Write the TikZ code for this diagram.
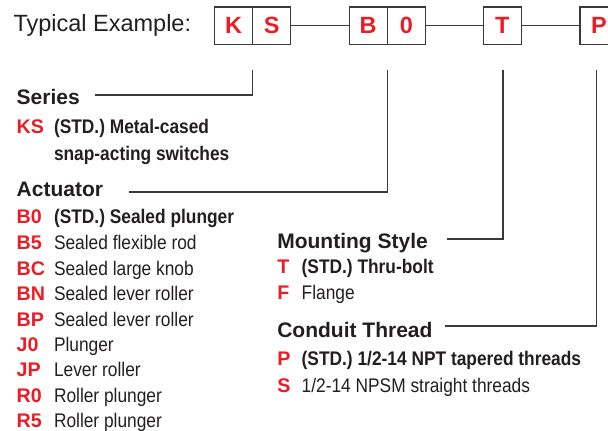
\documentclass[tikz,border=0pt]{standalone}
\usepackage{fontspec}
\setmainfont{Liberation Sans}
\newfontfamily\narrowfont[FakeStretch=0.88]{Liberation Sans}
\definecolor{txt}{HTML}{231F20}
\definecolor{codered}{HTML}{ED1C24}
\definecolor{linec}{HTML}{3A3A3A}
\begin{document}
\begin{tikzpicture}[x=1pt,y=-1pt,
  every node/.style={inner sep=0pt,outer sep=0pt,text=txt},
  cell/.style={draw=linec,line width=1.3pt,minimum width=38pt,minimum height=37.7pt,
    text=codered,font=\fontsize{23.5}{27}\selectfont\bfseries},
  conn/.style={draw=linec,line width=1.1pt},
  title/.style={anchor=base west,font=\fontsize{23.5}{28}\selectfont},
  header/.style={anchor=base west,font=\fontsize{21}{25}\selectfont\bfseries},
  code/.style={anchor=base west,text=codered,font=\fontsize{19.7}{24}\selectfont\bfseries},
  desc/.style={anchor=base west,font=\fontsize{19.7}{24}\narrowfont},
  descb/.style={anchor=base west,font=\fontsize{19.7}{24}\narrowfont\bfseries}]
\clip (0,0) rectangle (608,431);
% title
\node[title] (ttl) at (13.5,31.7) {Typical Example:};
% boxes
\node[cell] (K) at (233.7,25.85) {K};
\node[cell] (S) at (271.7,25.85) {S};
\node[cell] (B) at (368.15,25.85) {B};
\node[cell] (Z) at (406.3,25.85) {0};
\node[cell] (T) at (502.3,25.85) {T};
\node[cell] (P) at (599,25.85) {P};
\draw[conn] (S.east) -- (B.west);
\draw[conn] (Z.east) -- (T.west);
\draw[conn] (T.east) -- (P.west);
% connector coordinates
\coordinate (s1) at (252.7,70);
\coordinate (e1) at (95,95);
\coordinate (s2) at (387.3,70);
\coordinate (e2) at (129.3,192);
\coordinate (s3) at (503,70);
\coordinate (e3) at (447,239);
\coordinate (s4) at (596.5,70);
\coordinate (e4) at (445,326);
\draw[conn] (s1) |- (e1);
\draw[conn] (s2) |- (e2);
\draw[conn] (s3) |- (e3);
\draw[conn] (s4) |- (e4);
% Series
\node[header] (hser) at (16.7,104) {Series};
\node[code] (cKS) at (16.7,133.3) {KS};
\node[descb] (dKS) at (54,133.3) {(STD.) Metal-cased};
\node[descb] (dKS2) at (54,160) {snap-acting switches};
% Actuator
\node[header] (hact) at (16.7,196.7) {Actuator};
\node[code] (cB0) at (16.7,223.4) {B0};
\node[descb] (dB0) at (54,223.4) {(STD.) Sealed plunger};
\node[code] (cB5) at (16.7,249) {B5};
\node[desc] (dB5) at (54,249) {Sealed flexible rod};
\node[code] (cBC) at (16.7,275) {BC};
\node[desc] (dBC) at (54,275) {Sealed large knob};
\node[code] (cBN) at (16.7,300.7) {BN};
\node[desc] (dBN) at (54,300.7) {Sealed lever roller};
\node[code] (cBP) at (16.7,326) {BP};
\node[desc] (dBP) at (54,326) {Sealed lever roller};
\node[code] (cJ0) at (16.7,351.7) {J0};
\node[desc] (dJ0) at (54,351.7) {Plunger};
\node[code] (cJP) at (16.7,376.7) {JP};
\node[desc] (dJP) at (54,376.7) {Lever roller};
\node[code] (cR0) at (16.7,402.7) {R0};
\node[desc] (dR0) at (54,402.7) {Roller plunger};
\node[code] (cR5) at (16.7,427.7) {R5};
\node[desc] (dR5) at (54,427.7) {Roller plunger};
% Mounting style
\node[header] (hmnt) at (277.3,248.3) {Mounting Style};
\node[code] (cT) at (277.3,273.3) {T};
\node[descb] (dT) at (301.7,273.3) {(STD.) Thru-bolt};
\node[code] (cF) at (277.3,299.3) {F};
\node[desc] (dF) at (301.7,299.3) {Flange};
% Conduit thread
\node[header] (hcon) at (277.3,337.3) {Conduit Thread};
\node[code] (cP) at (277.3,365.7) {P};
\node[descb] (dP) at (301.7,365.7) {(STD.) 1/2-14 NPT tapered threads};
\node[code] (cS) at (277.3,392.7) {S};
\node[desc] (dS) at (301.7,392.7) {1/2-14 NPSM straight threads};
\end{tikzpicture}
\end{document}
